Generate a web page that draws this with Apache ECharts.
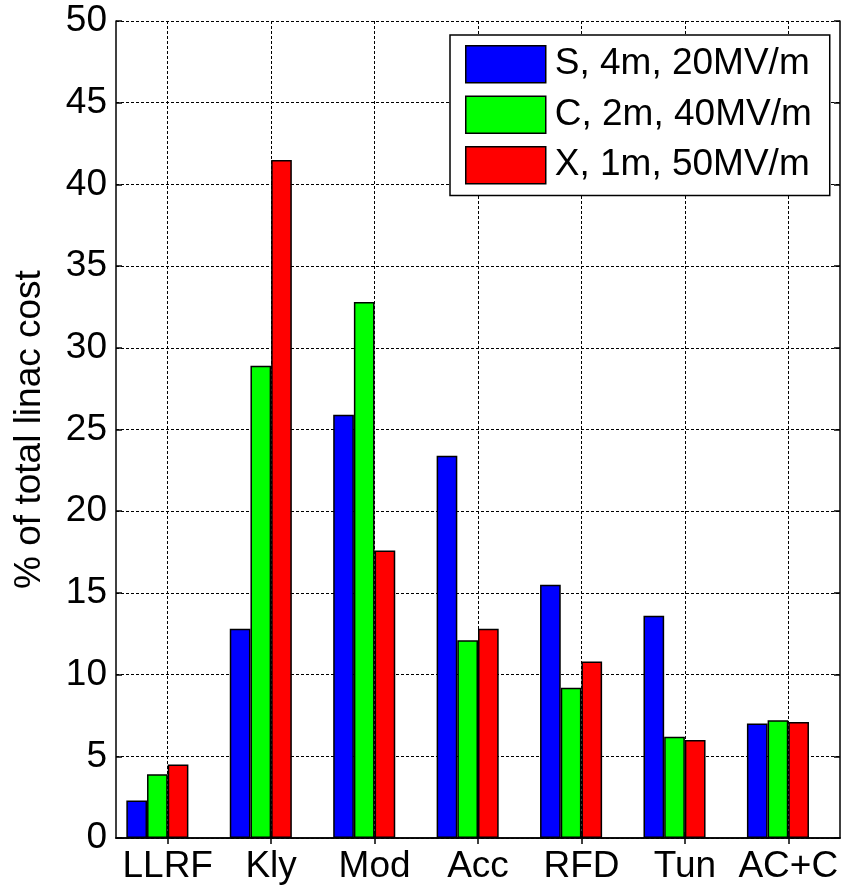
<!DOCTYPE html>
<html>
<head>
<meta charset="utf-8">
<script src="https://cdn.jsdelivr.net/npm/echarts@6/dist/echarts.min.js"></script>
<style>
  html, body { margin: 0; padding: 0; background: #fff; }
  #chart { width: 842px; height: 886px; }
</style>
</head>
<body>
<div id="chart"></div>
<script>
// Linac cost breakdown by RF subsystem, for three accelerating-structure bands
const categories = ['LLRF', 'Kly', 'Mod', 'Acc', 'RFD', 'Tun', 'AC+C'];
const seriesNames = ['S, 4m, 20MV/m', 'C, 2m, 40MV/m', 'X, 1m, 50MV/m'];
const sBand = [2.3, 12.8, 25.9, 23.4, 15.5, 13.6, 7.0];
const cBand = [3.9, 28.9, 32.8, 12.1, 9.2, 6.2, 7.2];
const xBand = [4.5, 41.5, 17.6, 12.8, 10.8, 6.0, 7.1];
const yTicks = { min: 0, max: 50, step: 5 };

const FONT = 'Liberation Sans, Arial, sans-serif';
const colors = ['#0000ff', '#00ff00', '#ff0000'];
const values = [sBand, cBand, xBand];
const gridDash = [3, 2];

// half-step positions across the plot: odd ones sit on category centres
const halfSteps = [];
for (let i = 0; i <= categories.length * 2; i++) halfSteps.push(String(i));

const chart = echarts.init(document.getElementById('chart'), null, { renderer: 'canvas' });

const barSeries = values.map((d, k) => ({
  name: seriesNames[k],
  type: 'bar',
  xAxisIndex: 0,
  yAxisIndex: 0,
  data: d,
  barWidth: '20%',
  barGap: '0%',
  itemStyle: { color: colors[k], borderColor: '#000', borderWidth: 1.5 },
  emphasis: { disabled: true },
  z: 3
}));
// empty slot after the red bar, so each group sits left of its tick
barSeries.push({
  name: 'slot',
  type: 'bar',
  xAxisIndex: 0,
  yAxisIndex: 0,
  data: [],
  barWidth: '20%',
  barGap: '0%'
});

const option = {
  animation: false,
  backgroundColor: '#fff',
  textStyle: { fontFamily: FONT },
  grid: { left: 116, right: 2, top: 21, bottom: 48, containLabel: false },
  legend: {
    data: seriesNames.map((n) => ({ name: n, icon: 'rect' })),
    orient: 'vertical',
    left: 450,
    top: 35,
    itemWidth: 80,
    itemHeight: 37,
    itemGap: 12,
    padding: [10, 18, 11, 15],
    backgroundColor: '#fff',
    borderColor: '#000',
    borderWidth: 1.5,
    selectedMode: false,
    textStyle: { fontFamily: FONT, fontSize: 37, color: '#000', padding: [0, 0, 0, 4] },
    itemStyle: { borderColor: '#000', borderWidth: 1.5 }
  },
  xAxis: [
    {
      type: 'category',
      data: categories,
      position: 'bottom',
      boundaryGap: true,
      axisLine: { show: true, lineStyle: { color: '#000', width: 1.5 } },
      axisTick: { show: true, inside: true, alignWithLabel: true, length: 6, lineStyle: { color: '#000', width: 1.5 } },
      axisLabel: { color: '#000', fontSize: 37, fontFamily: FONT, margin: 10, interval: 0 },
      splitLine: { show: false }
    },
    {
      type: 'category',
      data: halfSteps,
      position: 'top',
      boundaryGap: false,
      axisLine: { show: true, lineStyle: { color: '#000', width: 1.5 } },
      axisTick: { show: true, inside: true, length: 6, interval: (i) => i % 2 === 1, lineStyle: { color: '#000', width: 1.5 } },
      axisLabel: { show: false },
      splitLine: { show: true, interval: (i) => i % 2 === 1, lineStyle: { color: '#000', width: 1, type: gridDash } }
    }
  ],
  yAxis: [
    {
      type: 'value',
      min: yTicks.min,
      max: yTicks.max,
      interval: yTicks.step,
      position: 'left',
      name: '% of total linac cost',
      nameLocation: 'middle',
      nameGap: 68,
      nameRotate: 90,
      nameTextStyle: { color: '#000', fontSize: 37, fontFamily: FONT },
      axisLine: { show: true, lineStyle: { color: '#000', width: 1.5 } },
      axisTick: { show: true, inside: true, length: 6, lineStyle: { color: '#000', width: 1.5 } },
      axisLabel: { color: '#000', fontSize: 37, fontFamily: FONT, margin: 9 },
      splitLine: { show: true, lineStyle: { color: '#000', width: 1, type: gridDash } }
    },
    {
      type: 'value',
      min: yTicks.min,
      max: yTicks.max,
      interval: yTicks.step,
      position: 'right',
      axisLine: { show: true, lineStyle: { color: '#000', width: 1.5 } },
      axisTick: { show: true, inside: true, length: 6, lineStyle: { color: '#000', width: 1.5 } },
      axisLabel: { show: false },
      splitLine: { show: false }
    }
  ],
  series: barSeries
};

chart.setOption(option);
</script>
</body>
</html>
